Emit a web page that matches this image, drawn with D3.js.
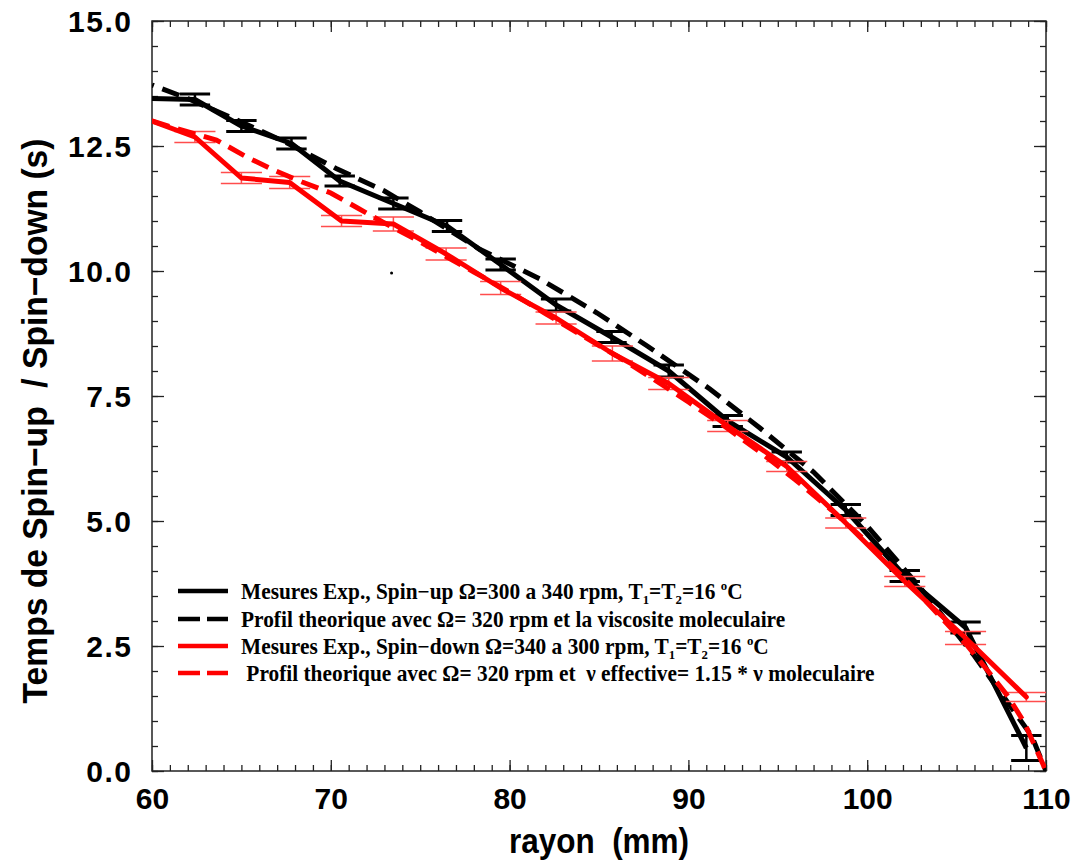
<!DOCTYPE html>
<html>
<head>
<meta charset="utf-8">
<title>Spin-up / Spin-down</title>
<script src="https://d3js.org/d3.v7.min.js"></script>
<style>
  body { margin: 0; background: #fff; }
  svg text { fill: #000; }
</style>
</head>
<body>
<div id="chart"></div>
<script>
// spin-up measurements (black)
var upR   = [60, 62.4, 65, 67.8, 70.5, 73.5, 76.5, 79.5, 82.6, 85.7, 88.9, 92.2, 95.5, 98.8, 102.1, 105.5, 108.9];
var upT   = [13.45, 13.43, 12.9, 12.55, 11.8, 11.35, 10.9, 10.13, 9.32, 8.68, 8.0, 7.0, 6.28, 5.22, 3.9, 2.87, 0.46];
var upErr = [0, 0.11, 0.11, 0.11, 0.1, 0.11, 0.11, 0.11, 0.12, 0.11, 0.12, 0.11, 0.1, 0.11, 0.11, 0.11, 0.25];

// theoretical profile, molecular viscosity (black dashed)
var thR1 = [60, 62, 65, 67.5, 70.3, 73, 75, 78.3, 81.7, 84.9, 87.7, 91.2, 94, 97, 100, 103, 106, 108, 109.2, 110];
var thT1 = [13.72, 13.45, 12.98, 12.57, 12.05, 11.6, 11.18, 10.44, 9.84, 9.16, 8.5, 7.64, 6.86, 5.98, 4.9, 3.65, 2.3, 1.3, 0.7, 0];

// spin-down measurements (red)
var downR   = [60, 62.4, 65, 67.7, 70.6, 73.5, 76.45, 79.5, 82.6, 85.75, 88.9, 92.2, 95.5, 98.8, 102.1, 105.5, 108.9];
var downT   = [13.0, 12.68, 11.86, 11.77, 11.0, 10.94, 10.34, 9.66, 9.06, 8.35, 7.75, 6.9, 6.09, 4.96, 3.79, 2.66, 1.48];
var downErr = [0, 0.11, 0.11, 0.12, 0.11, 0.14, 0.12, 0.13, 0.12, 0.15, 0.12, 0.11, 0.1, 0.1, 0.1, 0.13, 0.09];

// theoretical profile, effective viscosity (red dashed)
var thR2 = [60, 61, 63.6, 65.3, 66.8, 68.4, 70, 71.5, 72.9, 74.5, 76, 78, 80, 82, 84, 86, 88, 90, 92, 94, 96, 98, 100, 102, 104, 105.5, 106.8, 107.9, 108.8, 109.4, 110];
var thT2 = [13.0, 12.89, 12.62, 12.28, 12.02, 11.78, 11.56, 11.26, 10.98, 10.68, 10.38, 9.98, 9.58, 9.15, 8.72, 8.3, 7.85, 7.38, 6.9, 6.38, 5.82, 5.22, 4.58, 3.88, 3.12, 2.55, 1.98, 1.48, 0.96, 0.48, 0];

var strayR = [73.4];
var strayT = [9.96];

var xTicks = [60, 70, 80, 90, 100, 110];
var yTicks = [0, 2.5, 5, 7.5, 10, 12.5, 15];

var W = 1077, H = 861;
var padL = 152, padR = 1046, padT = 21, padB = 771;

var svg = d3.select("#chart").append("svg")
  .attr("width", W).attr("height", H);

var x = d3.scaleLinear().domain([60, 110]).range([padL, padR]);
var y = d3.scaleLinear().domain([0, 15]).range([padB, padT]);

svg.append("defs").append("clipPath").attr("id", "clip")
  .append("rect").attr("x", padL).attr("y", padT)
  .attr("width", padR - padL).attr("height", padB - padT);

// frame
svg.append("rect")
  .attr("x", padL).attr("y", padT)
  .attr("width", padR - padL).attr("height", padB - padT)
  .attr("fill", "none").attr("stroke", "#222").attr("stroke-width", 1.5);

var xMinor = d3.range(60, 111, 1);
var yMinor = d3.range(0, 15.01, 0.5);

function styleAxis(g) {
  g.select(".domain").remove();
  g.selectAll(".tick line").attr("stroke", "#222").attr("stroke-width", 1.3);
}

// bottom
svg.append("g").attr("transform", "translate(0," + padB + ")")
  .call(d3.axisBottom(x).tickValues(xMinor).tickSize(-6).tickFormat(""))
  .call(styleAxis);
svg.append("g").attr("transform", "translate(0," + padB + ")")
  .call(d3.axisBottom(x).tickValues(xTicks).tickSize(-11).tickPadding(17).tickFormat(d3.format("d")))
  .call(styleAxis)
  .selectAll("text")
  .style("font-family", "'Liberation Sans', Arial, sans-serif")
  .style("font-weight", "bold").style("font-size", "30px");

// top
svg.append("g").attr("transform", "translate(0," + padT + ")")
  .call(d3.axisTop(x).tickValues(xMinor).tickSize(-6).tickFormat(""))
  .call(styleAxis);
svg.append("g").attr("transform", "translate(0," + padT + ")")
  .call(d3.axisTop(x).tickValues(xTicks).tickSize(-11).tickFormat(""))
  .call(styleAxis);

// left
svg.append("g").attr("transform", "translate(" + padL + ",0)")
  .call(d3.axisLeft(y).tickValues(yMinor).tickSize(-6).tickFormat(""))
  .call(styleAxis);
svg.append("g").attr("transform", "translate(" + padL + ",0)")
  .call(d3.axisLeft(y).tickValues(yTicks).tickSize(-12).tickPadding(19.5).tickFormat(d3.format(".1f")))
  .call(styleAxis)
  .selectAll("text")
  .attr("dy", "0.36em")
  .style("letter-spacing", "1.5px")
  .style("font-family", "'Liberation Sans', Arial, sans-serif")
  .style("font-weight", "bold").style("font-size", "30px");

// right
svg.append("g").attr("transform", "translate(" + padR + ",0)")
  .call(d3.axisRight(y).tickValues(yMinor).tickSize(-6).tickFormat(""))
  .call(styleAxis);
svg.append("g").attr("transform", "translate(" + padR + ",0)")
  .call(d3.axisRight(y).tickValues(yTicks).tickSize(-12).tickFormat(""))
  .call(styleAxis);

// axis titles
svg.append("text")
  .attr("transform", "translate(" + ((padL + padR) / 2) + ",853) scale(0.9,1)")
  .attr("text-anchor", "middle")
  .style("white-space", "pre")
  .style("font-family", "'Liberation Sans', Arial, sans-serif")
  .style("font-weight", "bold").style("font-size", "35px")
  .text("rayon  (mm)");

svg.append("text")
  .attr("transform", "translate(47,421) rotate(-90) scale(0.96,1)")
  .attr("text-anchor", "middle")
  .style("white-space", "pre")
  .style("font-family", "'Liberation Sans', Arial, sans-serif")
  .style("font-weight", "bold").style("font-size", "35px")
  .text("Temps de Spin\u2212up  / Spin\u2212down (s)");

var plot = svg.append("g").attr("clip-path", "url(#clip)");

function pts(rs, ts) {
  return rs.map(function (r, i) { return [r, ts[i]]; });
}

var line = d3.line().x(function (d) { return x(d[0]); }).y(function (d) { return y(d[1]); });

function errorBars(rs, ts, es, halfW, color, capW, barW) {
  var g = plot.append("g");
  rs.forEach(function (r, i) {
    if (!es[i]) return;
    var cx = x(r), y0 = y(ts[i] - es[i]), y1 = y(ts[i] + es[i]);
    g.append("line").attr("x1", cx).attr("x2", cx).attr("y1", y0).attr("y2", y1)
      .attr("stroke", color).attr("stroke-width", barW);
    [y0, y1].forEach(function (yy) {
      g.append("line").attr("x1", x(r - halfW)).attr("x2", x(r + halfW))
        .attr("y1", yy).attr("y2", yy)
        .attr("stroke", color).attr("stroke-width", capW);
    });
  });
}

// black: spin-up
errorBars(upR, upT, upErr, 0.85, "#000", 3, 2.5);
plot.append("path").datum(pts(upR, upT)).attr("d", line)
  .attr("fill", "none").attr("stroke", "#000").attr("stroke-width", 5)
  .attr("stroke-linejoin", "round");
plot.append("path").datum(pts(thR1, thT1)).attr("d", line)
  .attr("fill", "none").attr("stroke", "#000").attr("stroke-width", 5)
  .attr("stroke-dasharray", "18,9").attr("stroke-dashoffset", 16);

// red: spin-down
errorBars(downR, downT, downErr, 1.15, "#ff4d4d", 1.5, 1.5);
plot.append("path").datum(pts(downR, downT)).attr("d", line)
  .attr("fill", "none").attr("stroke", "#ff0000").attr("stroke-width", 5)
  .attr("stroke-linejoin", "round").attr("stroke-linecap", "round");
plot.append("path").datum(pts(thR2, thT2)).attr("d", line)
  .attr("fill", "none").attr("stroke", "#ff0000").attr("stroke-width", 5)
  .attr("stroke-dasharray", "18,9");

plot.selectAll(".stray").data(pts(strayR, strayT)).enter().append("circle")
  .attr("cx", function (d) { return x(d[0]); })
  .attr("cy", function (d) { return y(d[1]); })
  .attr("r", 1.5).attr("fill", "#000");

// legend
var legendRows = [
  { color: "#000", dash: null, y: 591,
    parts: [["Mesures Exp., Spin\u2212up \u03A9=300 a 340 rpm, T"], ["1", "sub"], ["=T"], ["2", "sub"], ["=16 "], ["o", "sup"], ["C"]] },
  { color: "#000", dash: "22,7", y: 619,
    parts: [["Profil theorique avec \u03A9= 320 rpm et la viscosite moleculaire"]] },
  { color: "#ff0000", dash: null, y: 646,
    parts: [["Mesures Exp., Spin\u2212down \u03A9=340 a 300 rpm, T"], ["1", "sub"], ["=T"], ["2", "sub"], ["=16 "], ["o", "sup"], ["C"]] },
  { color: "#ff0000", dash: "22,7", y: 673,
    parts: [[" Profil theorique avec \u03A9= 320 rpm et  \u03BD effective= 1.15 * \u03BD moleculaire"]] }
];

var lg = svg.append("g");
legendRows.forEach(function (row) {
  lg.append("line").attr("x1", 178).attr("x2", 228).attr("y1", row.y).attr("y2", row.y)
    .attr("stroke", row.color).attr("stroke-width", 4.5)
    .attr("stroke-dasharray", row.dash);
  var t = lg.append("text")
    .attr("transform", "translate(241," + (row.y + 7.5) + ") scale(0.95,1)")
    .style("white-space", "pre")
    .style("font-family", "'Liberation Serif', 'Times New Roman', serif")
    .style("font-weight", "bold").style("font-size", "22.5px");
  var shift = 0;
  row.parts.forEach(function (p) {
    var s = t.append("tspan").text(p[0]);
    var target = p[1] === "sub" ? 5 : p[1] === "sup" ? -9 : 0;
    if (target !== shift) { s.attr("dy", target - shift); shift = target; }
    if (p[1]) s.style("font-size", "13.5px");
  });
});
</script>
</body>
</html>
